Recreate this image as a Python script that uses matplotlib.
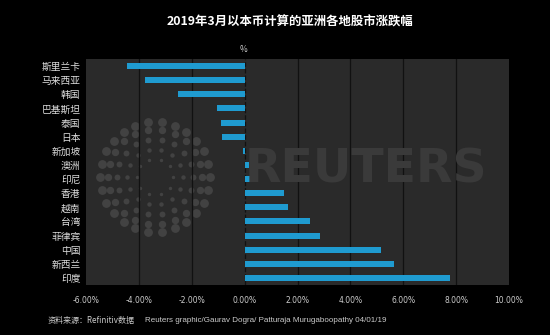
import numpy as np
import matplotlib.pyplot as plt

plt.rcParams['font.family'] = ['Noto Sans CJK SC', 'DejaVu Sans']

# data (% change in March 2019, local currency)
markets = ['斯里兰卡', '马来西亚', '韩国', '巴基斯坦', '泰国', '日本', '新加坡', '澳洲',
           '印尼', '香港', '越南', '台湾', '菲律宾', '中国', '新西兰', '印度']
changes = [-4.46, -3.77, -2.51, -1.03, -0.91, -0.84, -0.05, 0.15,
           0.42, 1.49, 1.64, 2.46, 2.84, 5.16, 5.64, 7.76]
xticks = [-6, -4, -2, 0, 2, 4, 6, 8, 10]
xtick_labels = ['-6.00%', '-4.00%', '-2.00%', '0.00%', '2.00%', '4.00%', '6.00%', '8.00%', '10.00%']

W, H = 550, 335
fig = plt.figure(figsize=(5.5, 3.35), dpi=100, facecolor='black')
ax = fig.add_axes([86 / W, 1 - 285 / H, (509 - 86) / W, (285 - 59) / H])
ax.set_facecolor('#2a2a2a')

# watermark: dotted ring logo + REUTERS
cx, cy = 155, 177
for r, n, s in [(18, 10, 6), (28, 14, 10), (38, 18, 18), (47, 22, 28), (55, 26, 40)]:
    a = np.linspace(0, 2 * np.pi, n, endpoint=False)
    ax.scatter((cx + r * np.cos(a)) / W, 1 - (cy + r * np.sin(a)) / H, s=s,
               color='#4d4d4d', alpha=0.7, transform=fig.transFigure, zorder=1,
               linewidths=0, clip_on=False)
fig.text(245 / W, 1 - 170 / H, 'REUTERS', color='#3a3a3a', fontsize=34,
         fontweight='bold', va='center', ha='left', family='DejaVu Sans', zorder=0.8)

y = np.arange(len(markets))
ax.barh(y, changes, height=0.42, color='#1f9bd0', zorder=3)
ax.set_ylim(len(markets) - 0.5, -0.5)
ax.set_xlim(-6, 10)

for xv in xticks[1:-1]:
    ax.axvline(xv, color='#111111', lw=0.9, ls='--' if xv == 0 else '-', zorder=2)

ax.set_yticks(y)
ax.set_yticklabels(markets, color='#dddddd', fontsize=7)
ax.set_xticks(xticks)
ax.set_xticklabels(xtick_labels, color='#cccccc', fontsize=5.5, family='DejaVu Sans')
ax.tick_params(length=0, pad=8)
ax.tick_params(axis='y', pad=4)
for sp in ax.spines.values():
    sp.set_visible(False)

fig.text(290 / W, 1 - 22 / H, '2019年3月以本币计算的亚洲各地股市涨跌幅', color='white',
         fontsize=8.9, fontweight='bold', ha='center', va='center')
fig.text(244 / W, 1 - 49 / H, '%', color='#cccccc', fontsize=6, ha='center', va='center')
fig.text(48 / W, 1 - 320 / H, '资料来源：Refinitiv数据', color='#cccccc', fontsize=5.8,
         ha='left', va='center')
fig.text(145 / W, 1 - 320 / H, 'Reuters graphic/Gaurav Dogra/ Patturaja Murugaboopathy 04/01/19',
         color='#cccccc', fontsize=5.8, ha='left', va='center', family='Liberation Sans')

fig.savefig('out.png', dpi=100, facecolor='black')
